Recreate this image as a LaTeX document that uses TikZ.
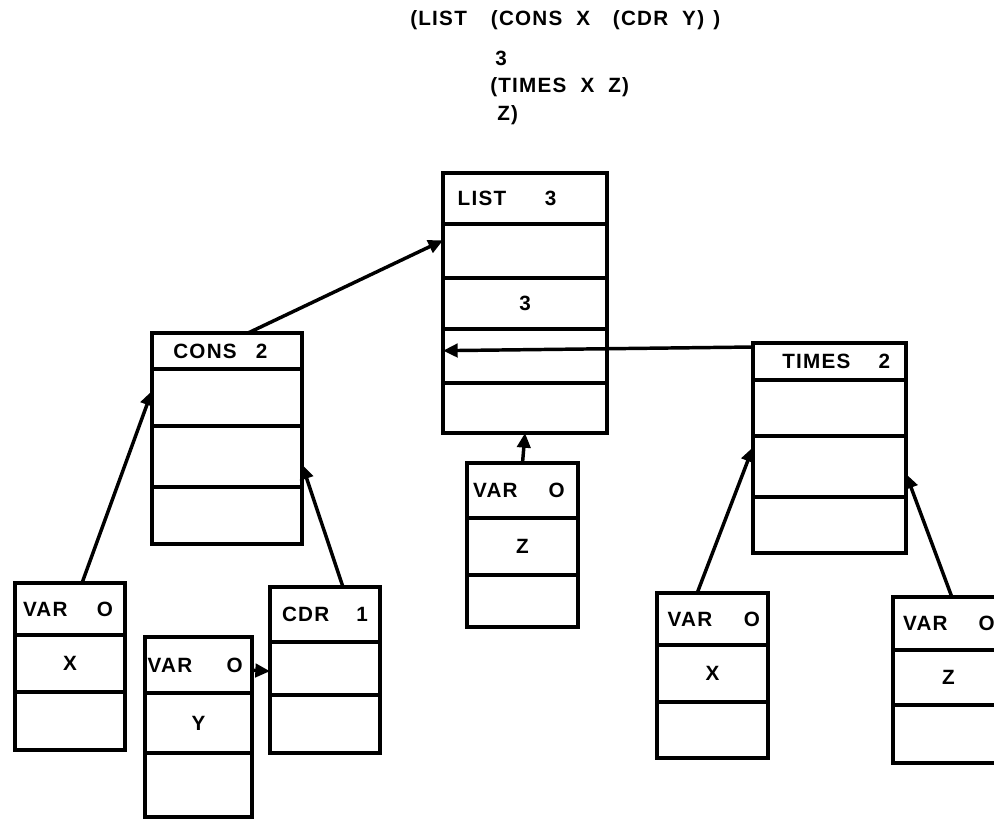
\documentclass[tikz,border=0pt]{standalone}
\usepackage{fontspec}
\setmainfont{Liberation Sans}[LetterSpace=6]
\usetikzlibrary{arrows.meta,positioning}
\newcommand{\gap}{\hskip 0pt plus 1fill\relax}
\tikzset{
  cell/.style={
    rectangle,
    draw=black,
    line width=2.6pt,
    fill=white,
    inner sep=0pt,
    outer sep=0pt,
    minimum width=#1,
    font=\fontsize{15.5pt}{18pt}\bfseries\selectfont
  },
  head/.style={text width=#1, align=left},
  code/.style={anchor=west, inner sep=0pt, font=\fontsize{15.5pt}{18pt}\bfseries\selectfont},
  ptr/.style={-{Triangle[length=11pt,width=10pt]}, line width=2.6pt, draw=black}
}
\begin{document}
\begin{tikzpicture}[x=0.75pt, y=-0.75pt]
  \useasboundingbox (0,0) rectangle (994,819);
  \clip (0,0) rectangle (994,819);

  \node[code] (code1) at (410,20) {(LIST\hspace{18pt}(CONS\hspace{10.5pt}X\hspace{17pt}(CDR\hspace{10.5pt}Y)\hspace{7pt})};
  \node[code] (code2) at (495,58) {3};
  \node[code] (code3) at (490,87) {(TIMES\hspace{10.5pt}X\hspace{10.5pt}Z)};
  \node[code] (code4) at (497,115) {Z)};

  \node[cell=123pt, head=123pt, minimum height=38.25pt, anchor=north west] (list1) at (443,173) {\hspace*{11pt}LIST\gap 3\hspace*{38pt}\mbox{}};
  \node[cell=123pt, minimum height=40.5pt, below=0pt of list1] (list2) {};
  \node[cell=123pt, minimum height=38.25pt, below=0pt of list2] (list3) {3};
  \node[cell=123pt, minimum height=40.5pt, below=0pt of list3] (list4) {};
  \node[cell=123pt, minimum height=37.5pt, below=0pt of list4] (list5) {};

  \node[cell=112.5pt, head=112.5pt, minimum height=27pt, anchor=north west] (cons1) at (152,333) {\hspace*{16pt}CONS\gap 2\hspace*{26pt}\mbox{}};
  \node[cell=112.5pt, minimum height=42.75pt, below=0pt of cons1] (cons2) {};
  \node[cell=112.5pt, minimum height=45.75pt, below=0pt of cons2] (cons3) {};
  \node[cell=112.5pt, minimum height=42.75pt, below=0pt of cons3] (cons4) {};

  \node[cell=114.75pt, head=114.75pt, minimum height=27.75pt, anchor=north west] (times1) at (753,343) {\hspace*{22pt}TIMES\gap 2\hspace*{12pt}\mbox{}};
  \node[cell=114.75pt, minimum height=42pt, below=0pt of times1] (times2) {};
  \node[cell=114.75pt, minimum height=45.75pt, below=0pt of times2] (times3) {};
  \node[cell=114.75pt, minimum height=42pt, below=0pt of times3] (times4) {};

  \node[cell=82.5pt, head=82.5pt, minimum height=39pt, anchor=north west] (varxa1) at (15,583) {\hspace*{6pt}VAR\gap O\hspace*{9pt}\mbox{}};
  \node[cell=82.5pt, minimum height=42.75pt, below=0pt of varxa1] (varxa2) {X};
  \node[cell=82.5pt, minimum height=43.5pt, below=0pt of varxa2] (varxa3) {};

  \node[cell=80.25pt, head=80.25pt, minimum height=42pt, anchor=north west] (vary1) at (145,637) {\hspace*{2pt}VAR\gap O\hspace*{7pt}\mbox{}};
  \node[cell=80.25pt, minimum height=45pt, below=0pt of vary1] (vary2) {Y};
  \node[cell=80.25pt, minimum height=48pt, below=0pt of vary2] (vary3) {};

  \node[cell=82.5pt, head=82.5pt, minimum height=41.25pt, anchor=north west] (cdr1) at (270,587) {\hspace*{9pt}CDR\gap 1\hspace*{9pt}\mbox{}};
  \node[cell=82.5pt, minimum height=39.75pt, below=0pt of cdr1] (cdr2) {};
  \node[cell=82.5pt, minimum height=43.5pt, below=0pt of cdr2] (cdr3) {};

  \node[cell=83.25pt, head=83.25pt, minimum height=41.25pt, anchor=north west] (varza1) at (467,463) {\hspace*{4.5pt}VAR\gap O\hspace*{10pt}\mbox{}};
  \node[cell=83.25pt, minimum height=42.75pt, below=0pt of varza1] (varza2) {Z};
  \node[cell=83.25pt, minimum height=39pt, below=0pt of varza2] (varza3) {};

  \node[cell=83.25pt, head=83.25pt, minimum height=39pt, anchor=north west] (varxb1) at (657,593) {\hspace*{8pt}VAR\gap O\hspace*{6pt}\mbox{}};
  \node[cell=83.25pt, minimum height=42.75pt, below=0pt of varxb1] (varxb2) {X};
  \node[cell=83.25pt, minimum height=42pt, below=0pt of varxb2] (varxb3) {};

  \node[cell=83.25pt, head=83.25pt, minimum height=39.75pt, anchor=north west] (varzb1) at (893,597) {\hspace*{7.5pt}VAR\gap O\hspace*{7pt}\mbox{}};
  \node[cell=83.25pt, minimum height=41.25pt, below=0pt of varzb1] (varzb2) {Z};
  \node[cell=83.25pt, minimum height=43.5pt, below=0pt of varzb2] (varzb3) {};

  \draw[ptr] ([xshift=15.75pt]cons1.north) -- ([yshift=8pt]list2.west);
  \draw[ptr] ([yshift=-3pt]times1.north west) -- ([yshift=4pt]list4.west);
  \draw[ptr] (varza1.north) -- (list5.south);
  \draw[ptr] ([xshift=9pt]varxa1.north) -- ([yshift=5pt]cons2.west);
  \draw[ptr] ([xshift=13.5pt]cdr1.north) -- ([yshift=-6pt]cons3.east);
  \draw[ptr] ([yshift=-4pt]vary1.east) -- ([yshift=-2pt]cdr2.west);
  \draw[ptr] ([xshift=-11.5pt]varxb1.north) -- ([yshift=14.5pt]times3.west);
  \draw[ptr] ([xshift=2.5pt]varzb1.north) -- ([yshift=-5.5pt]times3.east);
\end{tikzpicture}
\end{document}
